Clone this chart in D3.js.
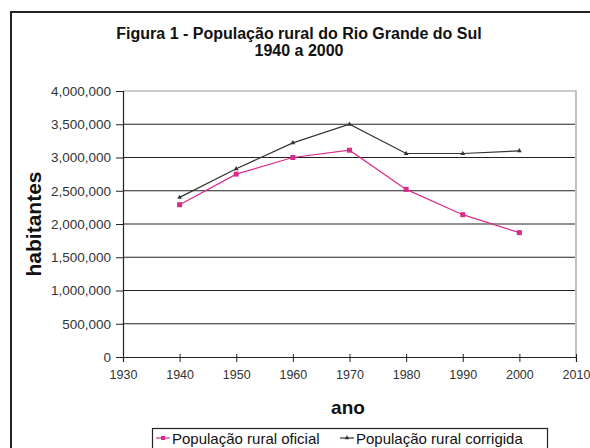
<!DOCTYPE html>
<html>
<head>
<meta charset="utf-8">
<script src="https://cdn.jsdelivr.net/npm/d3@7"></script>
<style>
  html, body { margin: 0; padding: 0; background: #fff; }
  svg { display: block; font-family: Arial, "Liberation Sans", sans-serif; }
</style>
</head>
<body>
<svg id="chart" width="590" height="448"></svg>
<script>
// Rural population of Rio Grande do Sul, census years
const years = [1940, 1950, 1960, 1970, 1980, 1990, 2000];
const oficial = [2290000, 2750000, 3000000, 3110000, 2520000, 2140000, 1870000];
const corrigida = [2400000, 2830000, 3220000, 3500000, 3060000, 3060000, 3100000];
const seriesNames = ["População rural oficial", "População rural corrigida"];
const yTicks = [0, 500000, 1000000, 1500000, 2000000, 2500000, 3000000, 3500000, 4000000];
const xTicks = [1930, 1940, 1950, 1960, 1970, 1980, 1990, 2000, 2010];

const FONT = "Arial, 'Liberation Sans', sans-serif";
const svg = d3.select("#chart");
const plot = { left: 123, right: 576, top: 91, bottom: 357 };

const x = d3.scaleLinear().domain([1930, 2010]).range([plot.left, plot.right]);
const y = d3.scaleLinear().domain([0, 4000000]).range([plot.bottom, plot.top]);

// outer frame (runs off the right and bottom edges)
svg.append("path")
  .attr("d", "M11,449 L11,12 L591,12")
  .attr("fill", "none").attr("stroke", "#222").attr("stroke-width", 2);

// title
const title = svg.append("text").attr("text-anchor", "middle")
  .attr("font-weight", "bold").attr("font-size", 16).attr("fill", "#111");
title.append("tspan").attr("x", 299).attr("y", 39).text("Figura 1 - População rural do Rio Grande do Sul");
title.append("tspan").attr("x", 299).attr("y", 56).text("1940 a 2000");

// plot area border (top and right, grey)
svg.append("path")
  .attr("d", `M${plot.left},${plot.top} L${plot.right},${plot.top} L${plot.right},${plot.bottom}`)
  .attr("fill", "none").attr("stroke", "#999").attr("stroke-width", 1.2);

// horizontal gridlines
svg.append("g").selectAll("line")
  .data(yTicks.filter(d => d > 0 && d < 4000000))
  .join("line")
  .attr("x1", plot.left).attr("x2", plot.right - 1)
  .attr("y1", d => y(d)).attr("y2", d => y(d))
  .attr("stroke", "#222").attr("stroke-width", 1.1);

// y axis
const yAxis = svg.append("g")
  .attr("transform", `translate(${plot.left},0)`)
  .call(d3.axisLeft(y).tickValues(yTicks).tickSize(7).tickPadding(5)
    .tickFormat(d3.format(",")));
yAxis.select(".domain").attr("stroke", "#222").attr("stroke-width", 1.2);
yAxis.selectAll(".tick line").attr("stroke", "#222");
yAxis.selectAll("text").attr("font-size", 13.5).attr("fill", "#333")
  .attr("font-family", FONT);

// x axis
const xAxis = svg.append("g")
  .attr("transform", `translate(0,${plot.bottom})`)
  .call(d3.axisBottom(x).tickValues(xTicks).tickSize(5).tickPadding(8)
    .tickFormat(d3.format("d")));
xAxis.select(".domain").attr("stroke", "#222").attr("stroke-width", 1.2);
xAxis.selectAll(".tick line").attr("stroke", "#222").attr("y1", -3);
xAxis.selectAll("text").attr("font-size", 12.5).attr("fill", "#333")
  .attr("font-family", FONT);

// axis titles
svg.append("text")
  .attr("transform", "translate(41,224) rotate(-90)")
  .attr("text-anchor", "middle").attr("font-weight", "bold")
  .attr("font-size", 21).attr("fill", "#111").text("habitantes");
svg.append("text")
  .attr("x", 348).attr("y", 414)
  .attr("text-anchor", "middle").attr("font-weight", "bold")
  .attr("font-size", 19).attr("fill", "#111").text("ano");

const pink = "#d92b8a";
const dark = "#333";
const line = d3.line().x(d => x(d[0])).y(d => y(d[1]));

// corrected series
svg.append("path")
  .datum(years.map((yr, i) => [yr, corrigida[i]]))
  .attr("d", line).attr("fill", "none").attr("stroke", dark).attr("stroke-width", 1.2);
svg.append("g").selectAll("path")
  .data(years.map((yr, i) => [yr, corrigida[i]]))
  .join("path")
  .attr("d", d3.symbol().type(d3.symbolTriangle).size(10))
  .attr("transform", d => `translate(${x(d[0])},${y(d[1])})`)
  .attr("fill", dark);

// official series
svg.append("path")
  .datum(years.map((yr, i) => [yr, oficial[i]]))
  .attr("d", line).attr("fill", "none").attr("stroke", pink).attr("stroke-width", 1.2);
svg.append("g").selectAll("rect")
  .data(years.map((yr, i) => [yr, oficial[i]]))
  .join("rect")
  .attr("x", d => x(d[0]) - 2.5).attr("y", d => y(d[1]) - 2.5)
  .attr("width", 5).attr("height", 5)
  .attr("fill", pink);

// legend
const legend = svg.append("g");
legend.append("rect")
  .attr("x", 152.5).attr("y", 428.5).attr("width", 395).attr("height", 24)
  .attr("fill", "#fff").attr("stroke", "#222").attr("stroke-width", 1.2);
const items = [
  { name: seriesNames[0], color: pink, x0: 156, shape: "square" },
  { name: seriesNames[1], color: dark, x0: 340, shape: "triangle" }
];
items.forEach(it => {
  const ly = 438;
  legend.append("line").attr("x1", it.x0).attr("x2", it.x0 + 14)
    .attr("y1", ly).attr("y2", ly).attr("stroke", it.color).attr("stroke-width", 1.2);
  if (it.shape === "square") {
    legend.append("rect").attr("x", it.x0 + 5).attr("y", ly - 2).attr("width", 4).attr("height", 4).attr("fill", it.color);
  } else {
    legend.append("path").attr("d", d3.symbol().type(d3.symbolTriangle).size(9))
      .attr("transform", `translate(${it.x0 + 7},${ly})`).attr("fill", it.color);
  }
  legend.append("text").attr("x", it.x0 + 16).attr("y", ly + 5.5)
    .attr("font-size", 15).attr("fill", "#111").text(it.name);
});
</script>
</body>
</html>
